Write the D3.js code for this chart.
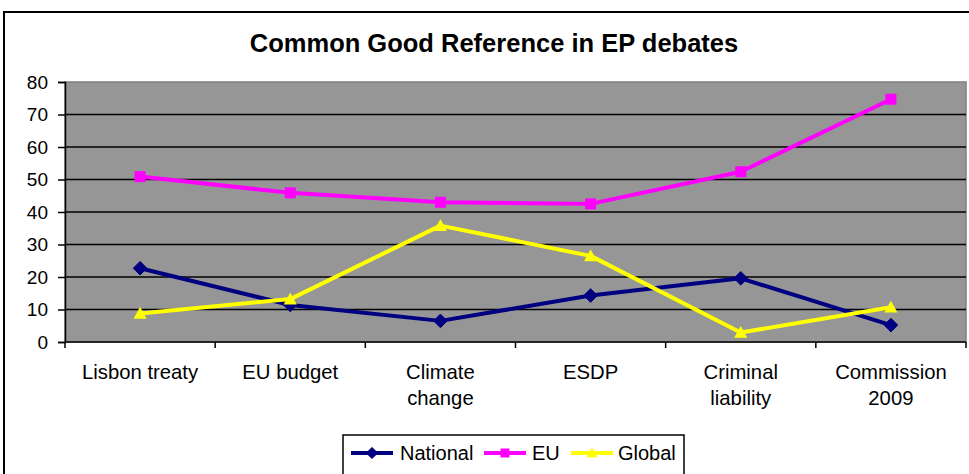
<!DOCTYPE html>
<html>
<head>
<meta charset="utf-8">
<script src="https://cdn.jsdelivr.net/npm/d3@7"></script>
<style>
  html, body { margin: 0; padding: 0; background: #fff; }
  svg { display: block; font-family: Arial, "Liberation Sans", sans-serif; }
</style>
</head>
<body>
<svg id="chart" width="969" height="474"></svg>
<script>
// Debates and reference shares per level of the common good
const categories = [["Lisbon treaty"], ["EU budget"], ["Climate", "change"], ["ESDP"], ["Criminal", "liability"], ["Commission", "2009"]];
const nationalValues = [22.7, 11.4, 6.5, 14.3, 19.6, 5.2];
const euValues = [50.9, 45.9, 43.0, 42.5, 52.4, 74.7];
const globalValues = [8.8, 13.2, 35.8, 26.5, 2.9, 10.7];
const yTicks = [0, 10, 20, 30, 40, 50, 60, 70, 80];
const seriesNames = ["National", "EU", "Global"];

const series = [
  { name: seriesNames[0], values: nationalValues, color: "#000080", marker: "diamond" },
  { name: seriesNames[1], values: euValues, color: "#FF00FF", marker: "square" },
  { name: seriesNames[2], values: globalValues, color: "#FFFF00", marker: "triangle" }
];

const svg = d3.select("#chart");
const plot = { left: 65, right: 966, top: 82, bottom: 342 };

// Outer chart frame
svg.append("rect")
  .attr("x", 4).attr("y", 12).attr("width", 980).attr("height", 480)
  .attr("fill", "#fff").attr("stroke", "#000").attr("stroke-width", 2);

// Title
svg.append("text")
  .attr("x", 494).attr("y", 52)
  .attr("text-anchor", "middle")
  .attr("font-size", 25.5).attr("font-weight", "bold")
  .text("Common Good Reference in EP debates");

const x = d3.scaleBand()
  .domain(d3.range(categories.length))
  .range([plot.left, plot.right]);

const y = d3.scaleLinear()
  .domain([0, 80])
  .range([plot.bottom, plot.top]);

// Plot area
svg.append("rect")
  .attr("x", plot.left).attr("y", plot.top)
  .attr("width", plot.right - plot.left).attr("height", plot.bottom - plot.top)
  .attr("fill", "#969696").attr("stroke", "#808080").attr("stroke-width", 1.5);

// Horizontal gridlines
svg.append("g")
  .selectAll("line")
  .data(yTicks.filter(t => t > 0 && t < 80))
  .join("line")
  .attr("x1", plot.left).attr("x2", plot.right)
  .attr("y1", d => y(d)).attr("y2", d => y(d))
  .attr("stroke", "#000").attr("stroke-width", 1.5);

// Y axis
const yAxis = svg.append("g")
  .attr("transform", `translate(${plot.left},0)`)
  .call(d3.axisLeft(y).tickValues(yTicks).tickSize(7).tickPadding(10));
yAxis.select(".domain").attr("stroke", "#000").attr("stroke-width", 1.5);
yAxis.selectAll(".tick line").attr("stroke", "#000").attr("stroke-width", 1.5);
yAxis.selectAll(".tick text")
  .attr("font-size", 19).attr("fill", "#000")
  .attr("font-family", "Arial, 'Liberation Sans', sans-serif");

// X axis with ticks on category boundaries
const xAxisG = svg.append("g");
xAxisG.append("line")
  .attr("x1", plot.left).attr("x2", plot.right)
  .attr("y1", plot.bottom).attr("y2", plot.bottom)
  .attr("stroke", "#000").attr("stroke-width", 1.5);
const boundaries = d3.range(categories.length + 1).map(i => i < categories.length ? x(i) : x(i - 1) + x.bandwidth());
xAxisG.selectAll("line.tick")
  .data(boundaries)
  .join("line")
  .attr("class", "tick")
  .attr("x1", d => d).attr("x2", d => d)
  .attr("y1", plot.bottom).attr("y2", plot.bottom + 6)
  .attr("stroke", "#000").attr("stroke-width", 1.5);

const labels = xAxisG.selectAll("text.cat")
  .data(categories)
  .join("text")
  .attr("class", "cat")
  .attr("x", (d, i) => x(i) + x.bandwidth() / 2)
  .attr("y", 379)
  .attr("text-anchor", "middle")
  .attr("font-size", 20.3);
labels.selectAll("tspan")
  .data(d => d)
  .join("tspan")
  .attr("x", function () { return d3.select(this.parentNode).attr("x"); })
  .attr("dy", (d, i) => i === 0 ? 0 : 26)
  .text(d => d);

const cx = i => x(i) + x.bandwidth() / 2;

function drawMarker(g, type, px, py, color, size) {
  if (type === "diamond") {
    const s = size * 0.62;
    g.append("path")
      .attr("d", `M${px},${py - s}L${px + s},${py}L${px},${py + s}L${px - s},${py}Z`)
      .attr("fill", color).attr("stroke", color).attr("stroke-width", 1);
  } else if (type === "square") {
    const s = size * 0.5;
    g.append("rect")
      .attr("x", px - s).attr("y", py - s).attr("width", 2 * s).attr("height", 2 * s)
      .attr("fill", color);
  } else {
    const s = size * 0.6;
    g.append("path")
      .attr("d", `M${px},${py - s}L${px + s},${py + s * 0.8}L${px - s},${py + s * 0.8}Z`)
      .attr("fill", color);
  }
}

// Series lines and markers
const line = d3.line().x((d, i) => cx(i)).y(d => y(d));
series.forEach(s => {
  const g = svg.append("g");
  g.append("path")
    .datum(s.values)
    .attr("d", line)
    .attr("fill", "none")
    .attr("stroke", s.color)
    .attr("stroke-width", 4)
    .attr("stroke-linejoin", "round");
  s.values.forEach((v, i) => drawMarker(g, s.marker, cx(i), y(v), s.color, 11));
});

// Legend
const legend = svg.append("g");
legend.append("rect")
  .attr("x", 343).attr("y", 435).attr("width", 341).attr("height", 60)
  .attr("fill", "#fff").attr("stroke", "#000").attr("stroke-width", 1.5);
const legendX = [351, 484, 571];
const textX = [400, 532, 618];
series.forEach((s, i) => {
  const ly = 453;
  legend.append("line")
    .attr("x1", legendX[i]).attr("x2", legendX[i] + 42)
    .attr("y1", ly).attr("y2", ly)
    .attr("stroke", s.color).attr("stroke-width", 4);
  drawMarker(legend, s.marker, legendX[i] + 21, ly, s.color, 9);
  legend.append("text")
    .attr("x", textX[i]).attr("y", ly + 7)
    .attr("font-size", 20)
    .text(s.name);
});
</script>
</body>
</html>
